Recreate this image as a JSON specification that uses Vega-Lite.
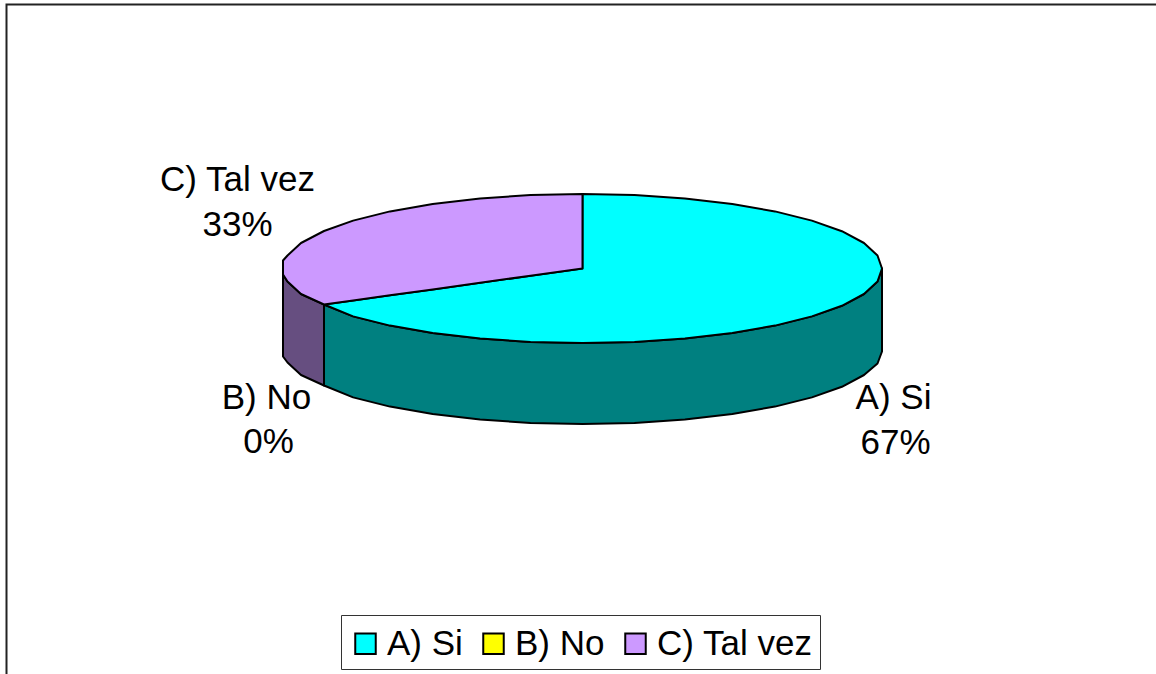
{
"$schema":"https://vega.github.io/schema/vega-lite/v6.json",
"width":1156,"height":674,"autosize":"none","padding":0,
"background":"white",
"config":{"view":{"stroke":null},"font":"Liberation Sans"},
"datasets":{
"frame":[{"k":1,"x":573.5,"y":264},{"k":2,"x":-576,"y":264},{"k":3,"x":-576,"y":-405.5}],
"labels":[
{"t":"C) Tal vez","x":-345,"y":78},{"t":"33%","x":-345,"y":33},
{"t":"B) No","x":-316,"y":-140},{"t":"0%","x":-314,"y":-184},
{"t":"A) Si","x":311,"y":-140},{"t":"67%","x":313,"y":-185}],
"pie":[
{"part":"A) Si (lado)","x":-258.5,"y":-36,"y2":-117},
{"part":"A) Si (lado)","x":-229.4,"y":-47.9,"y2":-128.9},
{"part":"A) Si (lado)","x":-192.5,"y":-57.1,"y2":-138.1},
{"part":"A) Si (lado)","x":-149.8,"y":-64.5,"y2":-145.5},
{"part":"A) Si (lado)","x":-102.4,"y":-70,"y2":-151},
{"part":"A) Si (lado)","x":-52,"y":-73.4,"y2":-154.4},
{"part":"A) Si (lado)","x":0,"y":-74.5,"y2":-155.5},
{"part":"A) Si (lado)","x":52,"y":-73.4,"y2":-154.4},
{"part":"A) Si (lado)","x":102.4,"y":-70,"y2":-151},
{"part":"A) Si (lado)","x":149.8,"y":-64.5,"y2":-145.5},
{"part":"A) Si (lado)","x":192.5,"y":-57.1,"y2":-138.1},
{"part":"A) Si (lado)","x":229.4,"y":-47.9,"y2":-128.9},
{"part":"A) Si (lado)","x":259.4,"y":-37.3,"y2":-118.3},
{"part":"A) Si (lado)","x":281.5,"y":-25.5,"y2":-106.5},
{"part":"A) Si (lado)","x":295,"y":-13,"y2":-95},
{"part":"A) Si (lado)","x":299.5,"y":0,"y2":-83},
{"part":"C) Tal vez (lado)","x":-299.5,"y":-6,"y2":-88},
{"part":"C) Tal vez (lado)","x":-295,"y":-13,"y2":-94},
{"part":"C) Tal vez (lado)","x":-281.5,"y":-25.5,"y2":-106.5},
{"part":"C) Tal vez (lado)","x":-258.5,"y":-36,"y2":-117},
{"part":"A) Si","x":-258.5,"y":-36,"y2":-36},
{"part":"A) Si","x":-229.4,"y":-31.9,"y2":-47.9},
{"part":"A) Si","x":-192.5,"y":-26.8,"y2":-57.1},
{"part":"A) Si","x":-149.8,"y":-20.9,"y2":-64.5},
{"part":"A) Si","x":-102.4,"y":-14.3,"y2":-70},
{"part":"A) Si","x":-52,"y":-7.2,"y2":-73.4},
{"part":"A) Si","x":-0.1,"y":0,"y2":-74.5},
{"part":"A) Si","x":0,"y":74.5,"y2":-74.5},
{"part":"A) Si","x":52,"y":73.4,"y2":-73.4},
{"part":"A) Si","x":102.4,"y":70,"y2":-70},
{"part":"A) Si","x":149.8,"y":64.5,"y2":-64.5},
{"part":"A) Si","x":192.5,"y":57.1,"y2":-57.1},
{"part":"A) Si","x":229.4,"y":47.9,"y2":-47.9},
{"part":"A) Si","x":259.4,"y":37.3,"y2":-37.3},
{"part":"A) Si","x":281.5,"y":25.5,"y2":-25.5},
{"part":"A) Si","x":295,"y":13,"y2":-13},
{"part":"A) Si","x":299.5,"y":0,"y2":0},
{"part":"C) Tal vez","x":-299.5,"y":8,"y2":-6},
{"part":"C) Tal vez","x":-295,"y":13,"y2":-13},
{"part":"C) Tal vez","x":-281.5,"y":25.5,"y2":-25.5},
{"part":"C) Tal vez","x":-258.5,"y":37.5,"y2":-36},
{"part":"C) Tal vez","x":-229.4,"y":47.9,"y2":-31.9},
{"part":"C) Tal vez","x":-192.5,"y":57.1,"y2":-26.8},
{"part":"C) Tal vez","x":-149.8,"y":64.5,"y2":-20.9},
{"part":"C) Tal vez","x":-102.4,"y":70,"y2":-14.3},
{"part":"C) Tal vez","x":-52,"y":73.4,"y2":-7.2},
{"part":"C) Tal vez","x":0,"y":74.5,"y2":0}
]},
"layer":[
{"data":{"name":"frame"},"mark":{"type":"line","color":"#222222","strokeWidth":2},
 "encoding":{
  "x":{"field":"x","type":"quantitative","scale":{"domain":[-582.5,573.5],"nice":false,"zero":false},"axis":null},
  "y":{"field":"y","type":"quantitative","scale":{"domain":[-405.5,268.5],"nice":false,"zero":false},"axis":null},
  "order":{"field":"k","type":"quantitative"}}},
{"data":{"name":"pie"},"mark":{"type":"area","stroke":"black","strokeWidth":2,"strokeJoin":"round","interpolate":"linear"},
 "encoding":{
  "x":{"field":"x","type":"quantitative","axis":null},
  "y":{"field":"y","type":"quantitative","axis":null,"stack":null},
  "y2":{"field":"y2"},
  "color":{"field":"part","type":"nominal",
   "scale":{"domain":["A) Si","B) No","C) Tal vez","A) Si (lado)","C) Tal vez (lado)"],"range":["#00FFFF","#FFFF00","#CC99FF","#008080","#664E80"]},
   "legend":{"values":["A) Si","B) No","C) Tal vez"],"title":" ","titleFontSize":3,"titlePadding":1,"orient":"none","legendX":341,"legendY":615,"direction":"horizontal","columns":3,
    "symbolType":"square","symbolSize":420,"symbolStrokeColor":"black","symbolStrokeWidth":2,"symbolOpacity":1,
    "labelFont":"Liberation Sans","labelFontSize":35,"labelColor":"black","labelLimit":300,"columnPadding":13,"labelOffset":4,
    "strokeColor":"#333333","fillColor":"white","padding":7}}}},
{"data":{"name":"labels"},"mark":{"type":"text","font":"Liberation Sans","fontSize":35,"color":"black","align":"center","baseline":"alphabetic"},
 "encoding":{
  "x":{"field":"x","type":"quantitative","axis":null},
  "y":{"field":"y","type":"quantitative","axis":null},
  "text":{"field":"t"}}}
]}
